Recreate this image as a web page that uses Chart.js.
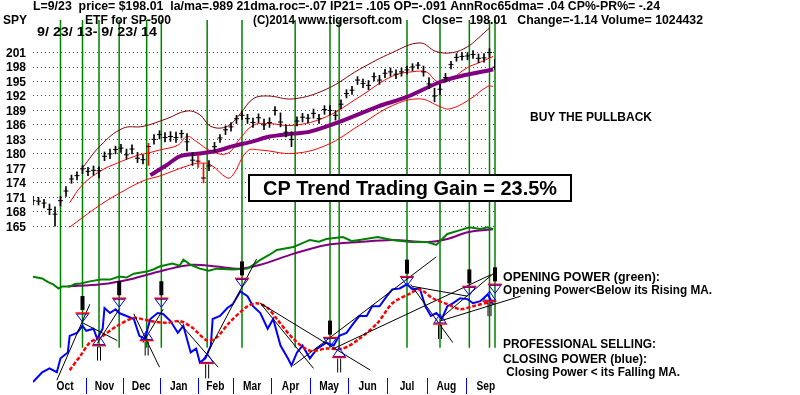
<!DOCTYPE html>
<html>
<head>
<meta charset="utf-8">
<script src="https://cdn.jsdelivr.net/npm/chart.js@4.4.0/dist/chart.umd.min.js"></script>
<style>
  html, body { margin: 0; padding: 0; background: #fff; }
</style>
</head>
<body>
<canvas id="spy" width="800" height="395"></canvas>
<script>
// SPY 9/23/13 - 9/23/14, one bar every 3 trading days
const barStep = 3;
const priceClose = [170.3,170.2,169.8,168.5,167.5,170.3,172.3,174.8,175.5,176.9,
  176.4,176.6,176.5,179.5,180.0,180.9,181.2,179.8,181.0,179.1,
  178.8,181.5,183.0,184.0,183.4,183.6,183.4,184.2,182.5,178.7,
  178.5,175.0,177.5,181.5,183.3,185.0,185.6,187.3,188.0,187.3,
  186.5,187.5,186.0,186.5,189.0,186.6,184.5,183.0,186.8,187.6,
  187.4,188.4,187.3,189.2,189.0,188.0,190.3,192.5,193.2,195.3,
  194.6,194.2,196.0,195.3,196.7,197.0,196.5,197.0,197.4,198.0,
  198.4,197.0,194.5,192.0,193.4,195.8,198.5,200.0,200.2,200.3,
  200.6,199.8,199.9,201.0,198.0];
const priceHigh = [171.2,171.0,170.6,169.6,169.0,171.2,173.2,175.6,176.3,177.6,
  177.2,177.5,177.3,180.4,181.0,181.6,182.0,181.0,181.9,180.3,
  179.8,182.2,184.0,184.8,184.4,184.6,184.5,184.9,184.2,180.2,
  179.8,178.0,178.6,182.4,184.0,185.8,186.5,188.0,188.8,188.2,
  187.4,188.3,187.2,187.5,189.8,188.5,186.0,184.6,187.7,188.4,
  188.2,189.3,188.2,190.0,190.0,189.0,191.2,193.3,194.0,196.0,
  195.5,195.2,196.8,196.3,197.5,197.8,197.4,197.8,198.2,198.7,
  199.0,198.2,195.8,193.6,194.4,196.7,199.2,200.8,201.0,201.0,
  201.4,200.7,200.8,201.8,199.6];
const priceLow = [169.4,169.4,168.8,167.4,165.0,169.2,171.2,173.9,174.6,175.9,
  175.5,175.6,175.0,178.6,179.0,180.0,180.3,178.9,180.0,178.2,
  177.9,177.6,182.0,183.1,182.5,182.6,182.4,183.3,180.6,177.6,
  177.2,174.0,176.5,180.5,182.4,184.0,184.7,186.3,187.1,186.3,
  185.5,186.5,185.0,185.5,188.0,185.6,183.5,181.5,185.8,186.6,
  186.4,187.4,186.3,188.2,188.0,187.0,189.3,191.6,192.3,194.4,
  193.7,193.3,195.1,194.4,195.8,196.1,195.6,196.1,196.5,197.2,
  197.6,196.1,193.5,190.8,192.3,194.9,197.6,199.2,199.4,199.5,
  199.8,198.9,199.0,200.0,197.5];
const redBarDays = [63, 90, 93];

// bands and moving average on the price panel [day, price]
const outerBand = [[27,177.1],[37,181.8],[49,185.3],[60,185.7],[73,187.3],[84,188.9],[91,188.1],[97,185.7],
  [106,185.7],[113,188.3],[120,191.4],[128,192.0],[142,191.4],[160,193.4],[178,197.5],[196,201.0],
  [211,203.0],[220,201.2],[229,201.0],[237,202.2],[242,203.7],[249,206.1]];
const upperBand = [[20,169.9],[27,173.6],[37,176.5],[46,178.1],[57,179.7],[62,180.1],[69,180.8],[79,181.8],
  [84,183.6],[89,182.6],[97,180.6],[106,180.1],[113,183.2],[120,185.9],[128,186.3],[142,185.9],
  [160,187.7],[178,191.8],[196,196.1],[209,197.1],[215,196.9],[220,195.1],[226,195.1],[237,197.9],
  [244,199.0],[251,200.2]];
const lowerBand = [[20,164.8],[27,166.8],[37,169.5],[46,171.6],[60,174.4],[69,175.4],[84,177.5],[91,178.1],
  [97,177.7],[106,175.0],[109,175.6],[117,180.6],[124,180.8],[142,180.1],[160,181.8],[178,185.9],
  [196,190.0],[211,191.4],[222,189.8],[227,189.3],[237,191.0],[248,194.0],[251,194.0]];
const priceMA = [[64,175.6],[73,177.7],[80,179.5],[91,180.1],[100,180.6],[109,181.6],[120,182.6],[129,183.6],
  [142,184.2],[151,184.6],[169,186.9],[188,189.8],[204,191.8],[222,194.9],[233,196.1],[251,197.5]];
const priceTicks = [165,168,171,174,177,180,183,186,189,192,195,198,201];

// Opening Power (green) and its MA (purple), Closing Power (blue) and its MA (red)
const openingPower = [[0,38.3],[5,37.7],[8,36.5],[11,35.7],[14,34.3],[16,35],[20,35],[23,35.8],[26,36],[31,36.7],
  [37,37.3],[42,37.3],[47,38.3],[51,38.0],[55,39.3],[62,40],[66,40.8],[69,41.7],[76,42.7],[80,42.0],[82,44],
  [86,42.3],[91,41],[96,40.3],[100,41],[109,40.7],[117,41],[121,42.6],[124,44],[129,45.7],[133,47.3],
  [142,48.3],[147,49.6],[151,50.7],[156,50.1],[160,51],[169,51.7],[174,50.3],[178,50.7],[188,51.7],
  [196,50.7],[206,50],[215,50],[220,49],[226,52.7],[233,54],[238,55],[244,54.4],[248,55],[251,54.3]];
const openingMA = [[19,35],[37,35.7],[55,37.7],[73,40.7],[87,42.3],[100,41.7],[113,41],[124,42.3],[142,46],
  [160,49],[178,50],[196,50.7],[215,50],[226,51],[237,53.3],[251,54.3]];
const closingPower = [[0,2.7],[5,6],[9,7.3],[13,6],[15,10.7],[19,12.7],[20,18.3],[24,19.3],[27,21.7],[29,20],
  [33,20.7],[35,17.3],[38,20.7],[39,27.7],[42,26],[45,27.3],[47,26],[51,25],[55,24],[58,18.3],[61,17.3],
  [64,24],[68,26],[71,25.7],[75,23.3],[79,19.3],[82,21.7],[86,12.7],[89,14],[91,9.3],[94,10.7],[97,15],
  [98,24],[102,25],[106,27.7],[109,29],[113,33.3],[117,31.7],[120,28.3],[124,26],[128,20.7],[131,24],
  [135,15],[139,10.7],[141,8.3],[144,12.7],[147,15],[151,10.7],[155,14],[160,16],[164,15],[167,18.3],
  [171,19.3],[175,22.7],[178,25],[182,25],[185,28.3],[189,28.3],[193,31.7],[196,34],[200,34.3],[204,35.7],
  [207,34],[211,34.3],[214,28.3],[217,25],[220,26],[223,24],[226,28.3],[229,29.3],[233,31],[237,30.7],
  [240,29.3],[244,30],[248,32.3],[251,29]];
const closingMA = [[20,6.7],[26,11.7],[31,16],[38,18.3],[46,21.7],[55,24.3],[64,23.3],[73,22.7],[80,23.3],
  [87,21],[95,16.7],[100,17.7],[107,22.7],[117,28.3],[122,29.3],[128,27.7],[133,24],[142,17.3],[151,13.3],
  [160,14],[169,14],[178,17.3],[188,22.7],[196,29.3],[206,32.7],[211,34],[218,31],[226,29],[233,27.3],
  [240,28.3],[251,30]];
const trendLines = [[13,3.3,31,29],[27,22.7,46,16.7],[35,15.7,47,27.3],[55,25.7,69,7.7],[60,16,71,27.3],
  [79,23.3,101,7.7],[94,11,122,44.3],[124,29.3,184,6.7],[124,29.3,153,7.3],[142,8.3,220,45],
  [164,14,250,39],[207,35,237,31.7],[206,35.7,229,16],[222,24,251,39.3],[222,23.3,266,31.7]];

// signals
const signalDays = [15,27,36,47,62,70,95,114,143,162,167,204,222,238,249,252];
const sellDays = [27,47,70,114,162,204,238,252];
const sellLevels = [26,31,31,37.7,17.7,38.3,35,35.7];
const buyDays = [36,62,95,167,222,249];
const buyLevels = [15,16.7,9,11,22.3,30];
const signalFloor = 14.3;

const months = ['Oct','Nov','Dec','Jan','Feb','Mar','Apr','May','Jun','Jul','Aug','Sep'];
const monthStarts = [6,29,49,69,90,109,130,151,172,193,215,236,258];

const FONT = '"Liberation Sans", Arial, sans-serif';
const toXY = arr => arr.map(p => ({ x: p[0], y: p[1] }));

function fitText(ctx, str, x, y, w, size) {
  ctx.font = 'bold ' + size + 'px ' + FONT;
  const m = ctx.measureText(str).width;
  ctx.save();
  ctx.translate(x, y);
  ctx.scale(w / m, 1);
  ctx.fillText(str, 0, 0);
  ctx.restore();
}

const tigerPlugin = {
  id: 'tiger',
  beforeDatasetsDraw(chart) {
    const { ctx, chartArea, scales: { x, yp } } = chart;
    ctx.save();
    ctx.strokeStyle = '#008000';
    ctx.lineWidth = 1.5;
    signalDays.forEach(d => {
      const px = x.getPixelForValue(d);
      ctx.beginPath();
      ctx.moveTo(px, chartArea.top);
      ctx.lineTo(px, yp.getPixelForValue(signalFloor));
      ctx.stroke();
    });
    ctx.restore();
  },
  afterDatasetsDraw(chart) {
    const { ctx, scales: { x, yp } } = chart;
    ctx.save();
    sellDays.forEach((d, i) => {
      const px = x.getPixelForValue(d), py = yp.getPixelForValue(sellLevels[i]);
      ctx.fillStyle = '#000';
      ctx.fillRect(px - 2, py - 17, 4, 14);
      ctx.strokeStyle = '#0000ff'; ctx.lineWidth = 1;
      ctx.beginPath();
      ctx.moveTo(px - 6, py + 1); ctx.lineTo(px + 6, py + 1); ctx.lineTo(px, py + 9); ctx.closePath();
      ctx.stroke();
      ctx.strokeStyle = '#ff0000'; ctx.lineWidth = 1.5;
      ctx.beginPath(); ctx.moveTo(px - 7, py); ctx.lineTo(px + 7, py); ctx.stroke();
    });
    buyDays.forEach((d, i) => {
      const px = x.getPixelForValue(d), py = yp.getPixelForValue(buyLevels[i]);
      ctx.strokeStyle = '#0000ff'; ctx.lineWidth = 1;
      ctx.beginPath();
      ctx.moveTo(px - 6, py - 1); ctx.lineTo(px + 6, py - 1); ctx.lineTo(px, py - 10); ctx.closePath();
      ctx.stroke();
      ctx.strokeStyle = '#000';
      ctx.beginPath();
      ctx.moveTo(px - 1.5, py + 1); ctx.lineTo(px - 1.5, py + 15);
      ctx.moveTo(px + 1.5, py + 1); ctx.lineTo(px + 1.5, py + 15);
      ctx.stroke();
      ctx.strokeStyle = '#ff0000'; ctx.lineWidth = 1.5;
      ctx.beginPath(); ctx.moveTo(px - 7, py); ctx.lineTo(px + 7, py); ctx.stroke();
    });
    ctx.restore();
  },
  afterDraw(chart) {
    const { ctx, scales: { x, y } } = chart;
    ctx.save();
    ctx.fillStyle = '#000';
    ctx.textBaseline = 'middle';
    ctx.textAlign = 'left';
    fitText(ctx, 'L=9/23  price= $198.01  la/ma=.989 21dma.roc=-.07 IP21= .105 OP=-.091 AnnRoc65dma= .04 CP%-PR%= -.24', 33, 7, 627, 12);
    fitText(ctx, 'SPY', 3, 21, 24, 12);
    fitText(ctx, 'ETF for SP-500', 85, 21, 86, 12);
    fitText(ctx, '(C)2014 www.tigersoft.com', 253, 21, 149, 12);
    fitText(ctx, 'Close=  198.01   Change=-1.14 Volume= 1024432', 422, 21, 281, 12);
    fitText(ctx, '9/ 23/ 13- 9/ 23/ 14', 37, 33, 120, 12);
    fitText(ctx, 'BUY THE PULLBACK', 530, 117, 122, 13);

    // price tick labels
    ctx.textAlign = 'right';
    ctx.font = 'bold 12px ' + FONT;
    priceTicks.forEach(v => ctx.fillText(String(v), 26, y.getPixelForValue(v) + 1));
    ctx.textAlign = 'left';

    // gain box
    ctx.fillStyle = '#fff';
    ctx.fillRect(249, 175, 322, 26);
    ctx.strokeStyle = '#000';
    ctx.lineWidth = 2;
    ctx.strokeRect(249, 175, 322, 26);
    ctx.fillStyle = '#000';
    fitText(ctx, 'CP Trend Trading Gain = 23.5%', 263, 189, 294, 21);

    fitText(ctx, 'OPENING POWER (green):', 503, 277, 157, 13);
    fitText(ctx, 'Opening Power<Below its Rising MA.', 503, 290, 209, 13);
    fitText(ctx, 'PROFESSIONAL SELLING:', 503, 344, 153, 13);
    fitText(ctx, 'CLOSING POWER (blue):', 503, 359, 144, 13);
    fitText(ctx, ' Closing Power < its Falling MA.', 503, 372, 177, 13);

    // month axis
    ctx.strokeStyle = '#0000ff';
    ctx.lineWidth = 1;
    monthStarts.slice(1, -1).forEach(d => {
      const px = Math.round(x.getPixelForValue(d)) + 0.5;
      ctx.beginPath(); ctx.moveTo(px, 378); ctx.lineTo(px, 394); ctx.stroke();
    });
    ctx.textAlign = 'center';
    ctx.font = 'bold 12px ' + FONT;
    months.forEach((m, i) => {
      const cx = (x.getPixelForValue(monthStarts[i]) + x.getPixelForValue(monthStarts[i + 1])) / 2;
      ctx.save();
      ctx.translate(cx, 387);
      ctx.scale(0.85, 1);
      ctx.fillText(m, 0, 0);
      ctx.restore();
    });
    ctx.restore();
  }
};

const lineDs = (data, color, width, order, axis, extra) => Object.assign({
  type: 'line', data: toXY(data), borderColor: color, borderWidth: width,
  pointRadius: 0, yAxisID: axis, order: order, tension: 0
}, extra || {});

const priceDays = priceClose.map((_, i) => i * barStep);

const datasets = [
  lineDs(outerBand, '#800000', 1, 20, 'y', { tension: 0.4 }),
  lineDs(upperBand, '#ff0000', 1, 19, 'y', { tension: 0.4 }),
  lineDs(lowerBand, '#ff0000', 1, 18, 'y', { tension: 0.4 }),
  lineDs(priceMA, '#800080', 4, 17, 'y', { tension: 0.3 }),
  {
    type: 'bar', yAxisID: 'y', order: 16,
    data: priceDays.map((d, i) => ({ x: d, y: [priceLow[i], priceHigh[i]] })),
    backgroundColor: c => redBarDays.includes(c.raw && c.raw.x) ? '#ff0000' : '#000',
    barThickness: 1, grouped: false
  },
  {
    type: 'line', yAxisID: 'y', order: 15, showLine: false,
    data: priceDays.map((d, i) => ({ x: d, y: priceClose[i] })),
    pointStyle: 'line', pointRadius: 2.5, borderColor: '#000', borderWidth: 1
  },
  lineDs(openingMA, '#800080', 2, 14, 'yp', { tension: 0.3 }),
  lineDs(openingPower, '#008000', 2, 13, 'yp'),
  lineDs(closingPower, '#0000ff', 2, 12, 'yp'),
  lineDs(closingMA, '#ff0000', 2.5, 11, 'yp', { borderDash: [4, 2], tension: 0.3 })
];
trendLines.forEach(t => {
  datasets.push(lineDs([[t[0], t[1]], [t[2], t[3]]], '#000', 1, 5, 'yp', { clip: false }));
});

new Chart(document.getElementById('spy'), {
  type: 'line',
  data: { datasets: datasets },
  options: {
    responsive: false,
    devicePixelRatio: 1,
    animation: false,
    layout: { padding: { left: 0, top: 20, right: 305, bottom: 0 } },
    plugins: { legend: { display: false }, tooltip: { enabled: false } },
    scales: {
      x: { type: 'linear', min: 0, max: 252, offset: false, display: false, grid: { offset: false } },
      y: {
        type: 'linear', position: 'left', min: 131.06, max: 207.75,
        afterBuildTicks: s => { s.ticks = priceTicks.map(v => ({ value: v })); },
        afterFit: s => { s.width = 33; s.paddingTop = 0; s.paddingBottom = 0; },
        ticks: { display: false },
        grid: { color: '#008000', lineWidth: 1, drawTicks: false },
        border: { display: false, dash: [1, 3] }
      },
      yp: { type: 'linear', min: 0, max: 125, display: false }
    }
  },
  plugins: [tigerPlugin]
});
</script>
</body>
</html>
